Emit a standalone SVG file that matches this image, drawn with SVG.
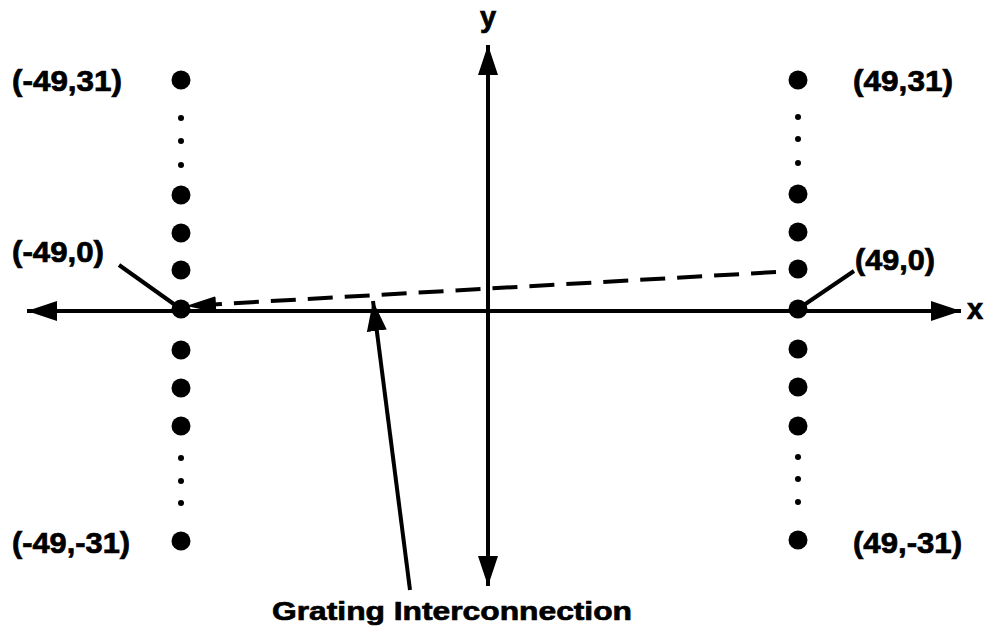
<svg xmlns="http://www.w3.org/2000/svg" width="988" height="638" viewBox="0 0 988 638">
<style>
text{font-family:"Liberation Sans",Arial,sans-serif;font-weight:bold;fill:#000;stroke:#000;stroke-width:0.7}
.lbl{font-size:29px}
.ax{stroke:#000;stroke-width:4;fill:none}
.lead{stroke:#000;stroke-width:4;fill:none}
.dash{stroke:#000;stroke-width:4;fill:none;stroke-dasharray:25 12}
</style>
<defs>
<marker id="ah" markerUnits="userSpaceOnUse" markerWidth="32" markerHeight="22" refX="30" refY="11" orient="auto-start-reverse" viewBox="0 0 32 22"><path d="M0,1 L30,11 L0,21 z" fill="#000"/></marker>
<marker id="ahs" markerUnits="userSpaceOnUse" markerWidth="32" markerHeight="20" refX="30" refY="10" orient="auto" viewBox="0 0 32 20"><path d="M0,2 L30,10 L0,18 z" fill="#000"/></marker>
</defs>
<rect width="988" height="638" fill="#fff"/>
<g id="connectors">
<line id="x-axis" class="ax" x1="27" y1="311" x2="961" y2="311" marker-start="url(#ah)" marker-end="url(#ah)"/>
<line id="y-axis" class="ax" x1="488" y1="45" x2="488" y2="586" marker-start="url(#ah)" marker-end="url(#ah)"/>
<line id="grating-link" class="dash" x1="776" y1="272" x2="186" y2="306" marker-end="url(#ahs)"/>
<line id="lead-left" class="lead" x1="119" y1="265" x2="178" y2="307"/>
<line id="lead-right" class="lead" x1="854" y1="271" x2="798" y2="309"/>
<line id="grating-pointer" class="lead" x1="410" y1="590" x2="373" y2="301" marker-end="url(#ah)"/>
</g>
<g id="left-column">
<circle cx="181" cy="80" r="9.5"/>
<circle cx="181" cy="118" r="3"/>
<circle cx="181" cy="141" r="3"/>
<circle cx="181" cy="165" r="3"/>
<circle cx="181" cy="195" r="9.5"/>
<circle cx="181" cy="233" r="9.5"/>
<circle cx="181" cy="270" r="9.5"/>
<circle cx="181" cy="309" r="9.5"/>
<circle cx="181" cy="350" r="9.5"/>
<circle cx="181" cy="388" r="9.5"/>
<circle cx="181" cy="426" r="9.5"/>
<circle cx="181" cy="458" r="3"/>
<circle cx="181" cy="481" r="3"/>
<circle cx="181" cy="503" r="3"/>
<circle cx="181" cy="541" r="9.5"/>
</g>
<g id="right-column">
<circle cx="798" cy="80" r="9.5"/>
<circle cx="798" cy="117" r="3"/>
<circle cx="798" cy="139" r="3"/>
<circle cx="798" cy="163" r="3"/>
<circle cx="798" cy="194" r="9.5"/>
<circle cx="798" cy="232" r="9.5"/>
<circle cx="798" cy="269" r="9.5"/>
<circle cx="798" cy="309" r="9.5"/>
<circle cx="798" cy="349" r="9.5"/>
<circle cx="798" cy="387" r="9.5"/>
<circle cx="798" cy="426" r="9.5"/>
<circle cx="798" cy="457" r="3"/>
<circle cx="798" cy="479" r="3"/>
<circle cx="798" cy="502" r="3"/>
<circle cx="798" cy="540" r="9.5"/>
</g>
<g id="label-m49-31"><text class="lbl" x="12" y="91" textLength="110" lengthAdjust="spacingAndGlyphs">(-49,31)</text></g>
<g id="label-49-31"><text class="lbl" x="853" y="91" textLength="100" lengthAdjust="spacingAndGlyphs">(49,31)</text></g>
<g id="label-m49-0"><text class="lbl" x="12" y="262" textLength="92" lengthAdjust="spacingAndGlyphs">(-49,0)</text></g>
<g id="label-49-0"><text class="lbl" x="855" y="270" textLength="80" lengthAdjust="spacingAndGlyphs">(49,0)</text></g>
<g id="label-m49-m31"><text class="lbl" x="12" y="553" textLength="118" lengthAdjust="spacingAndGlyphs">(-49,-31)</text></g>
<g id="label-49-m31"><text class="lbl" x="853" y="553" textLength="109" lengthAdjust="spacingAndGlyphs">(49,-31)</text></g>
<g id="label-y"><text class="lbl" x="488" y="27" text-anchor="middle">y</text></g>
<g id="label-x"><text class="lbl" x="975" y="319" text-anchor="middle">x</text></g>
<g id="label-grating"><text x="272" y="620" font-size="26" textLength="360" lengthAdjust="spacingAndGlyphs">Grating Interconnection</text></g>
</svg>
